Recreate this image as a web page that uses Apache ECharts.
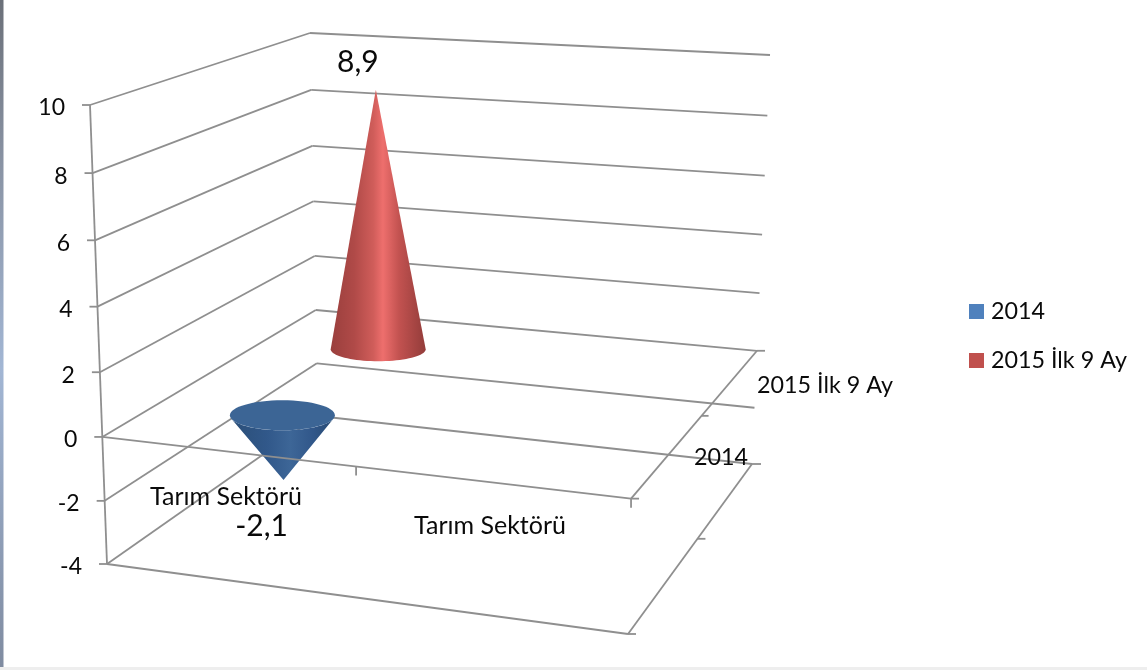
<!DOCTYPE html>
<html><head><meta charset="utf-8">
<style>html,body{margin:0;padding:0;background:#fff}#c{width:1147px;height:670px}</style>
<script src="https://cdn.jsdelivr.net/npm/echarts@6/dist/echarts.min.js"></script>
</head><body><div id="c"></div>
<script>
var categories = ['Tarım Sektörü'];
var seriesNames = ['2014', '2015 İlk 9 Ay'];
var values2014 = [-2.1];
var values2015 = [8.9];
var tickValues = [-4, -2, 0, 2, 4, 6, 8, 10];

var FONT = 'Lato';
var GRID = '#8f8f8f';
var TOP = {fl:[90,105], fr:[639,145], bl:[310,33], br:[770,55]};
var BOT = {fl:[107,564], fr:[628,634], bl:[318,416], br:[752,464]};
var PERSP = 1.045;

function mix(a,b,t){return [a[0]+(b[0]-a[0])*t, a[1]+(b[1]-a[1])*t];}
function project(api,u,v,val){
  var t=(api.coord([0,val])[1]-105)/459;
  var p=t*PERSP/(1+(PERSP-1)*t);
  function plane(C){return mix(mix(C.fl,C.fr,u),mix(C.bl,C.br,u),v);}
  return mix(plane(TOP),plane(BOT),p);
}
function seg(a,b){return {type:'line',shape:{x1:a[0],y1:a[1],x2:b[0],y2:b[1]},style:{stroke:GRID,lineWidth:1.8}};}
function txt(s,x,y,size,align){return {type:'text',style:{text:s,x:x,y:y,font:size+'px '+FONT,fill:'#0a0a0a',align:align||'center',verticalAlign:'middle'}};}

function renderBack(params,api){
  var c=[];
  tickValues.forEach(function(val){
    var fl=project(api,0,0,val),bl=project(api,0,1,val),br=project(api,1,1,val);
    c.push(seg(fl,bl),seg(bl,br),seg([fl[0]-8,fl[1]],fl));
  });
  c.push(seg(project(api,0,0,10),project(api,0,0,-4)));
  var fr=project(api,1,0,-4),brb=project(api,1,1,-4),flb=project(api,0,0,-4);
  c.push(seg(flb,fr),seg(fr,brb));
  var fr0=project(api,1,0,0),br0=project(api,1,1,0);
  c.push(seg(fr0,br0));
  return {type:'group',children:c};
}
function renderFront(params,api){
  var c=[];
  var fl0=project(api,0,0,0),fr0=project(api,1,0,0),br0=project(api,1,1,0);
  var frb=project(api,1,0,-4),brb=project(api,1,1,-4);
  c.push(seg(fl0,fr0));
  c.push(seg(fr0,[fr0[0],fr0[1]+9]),seg(fr0,[fr0[0]+8,fr0[1]]));
  c.push(seg(br0,[br0[0]+8,br0[1]]),seg(brb,[brb[0]+9,brb[1]]),seg(frb,[frb[0]+8,frb[1]]));
  var m=project(api,0.48,0,0);c.push(seg(m,[m[0],m[1]+9]));
  var d0=project(api,1,0.56,0),d1=project(api,1,0.56,-4);
  c.push(seg(d0,[d0[0]+7,d0[1]]),seg(d1,[d1[0]+8,d1[1]]));
  tickValues.forEach(function(val){
    var p=project(api,0,0,val);
    c.push(txt(String(val),p[0]-25,p[1]+3,23,'right'));
  });
  c.push(txt(categories[0],226,497,25));
  c.push(txt(categories[0],490,526,25));
  c.push(txt(seriesNames[1],825,385,23.3));
  c.push(txt(seriesNames[0],721,457,23.3));
  return {type:'group',children:c};
}
function lg(stops){return new echarts.graphic.LinearGradient(0,0,1,0,stops.map(function(s){return {offset:s[0],color:s[1]};}));}

function coneItem(opts){
  return function(params,api){
    var val=api.value(1);
    var z=project(api,0.25,opts.v,0);
    var a=project(api,0.25,opts.v,val);
    var cx=z[0], cy=z[1]-4;
    var ax=a[0], ay=cy+(a[1]-z[1])*0.99;
    var c=[];
    var label=String(val).replace('.',',');
    if(val>=0){
      var pts=[[ax,ay]];
      for(var i=0;i<=40;i++){var th=Math.PI*i/40;pts.push([cx+opts.rx*Math.cos(th),cy+opts.ry*Math.sin(th)]);}
      c.push({type:'polygon',shape:{points:pts},style:{fill:lg(opts.stops)}});
      c.push(txt(label,ax-18,ay-27,30));
    } else {
      var pts2=[[ax,ay]];
      for(var j=0;j<=40;j++){var t2=Math.PI*(0.08+0.84*j/40);pts2.push([cx-opts.rx*Math.cos(t2),cy+opts.ry*Math.sin(t2)]);}
      c.push({type:'polygon',shape:{points:pts2},style:{fill:lg(opts.stops)}});
      c.push({type:'ellipse',shape:{cx:cx,cy:cy,rx:opts.rx,ry:opts.ry},style:{fill:opts.top}});
      c.push(txt(label,ax-22,ay+46,30));
    }
    return {type:'group',children:c};
  };
}

var chart=echarts.init(document.getElementById('c'),null,{renderer:'canvas'});
chart.setOption({
  animation:false,
  backgroundColor:'#ffffff',
  graphic:[
    {type:'rect',left:0,top:0,z:100,shape:{width:3.5,height:670},style:{fill:new echarts.graphic.LinearGradient(0,0,0,1,[
      {offset:0,color:'#6b7079'},{offset:0.25,color:'#8a94a5'},{offset:0.55,color:'#a2b6d4'},{offset:1,color:'#7f8ba0'}])}},
    {type:'rect',left:0,top:667,z:100,shape:{width:1147,height:3},style:{fill:'#eeeeee'}}
  ],
  legend:{
    data:seriesNames,orient:'vertical',left:964,top:295,icon:'rect',itemWidth:15,itemHeight:15,itemGap:26,
    textStyle:{fontFamily:FONT,fontSize:23.3,color:'#0a0a0a',padding:[2,0,0,2]},selectedMode:false
  },
  grid:{left:90,top:105,width:540,height:459},
  xAxis:{type:'category',data:categories,show:false},
  yAxis:{type:'value',min:-4,max:10,interval:2,show:false},
  series:[
    {type:'custom',name:'walls',silent:true,z:1,clip:false,data:[[0,0]],renderItem:renderBack},
    {type:'custom',name:seriesNames[0],z:3,clip:false,itemStyle:{color:'#4F81BD'},
     data:values2014.map(function(v,i){return [i,v];}),
     renderItem:coneItem({v:0.25,rx:52.5,ry:15,top:'#3c6595',stops:[[0,'#2b4f78'],[0.35,'#31588a'],[0.58,'#3d6697'],[0.8,'#31578a'],[1,'#284a72']]})},
    {type:'custom',name:seriesNames[1],z:3,clip:false,itemStyle:{color:'#C0504D'},
     data:values2015.map(function(v,i){return [i,v];}),
     renderItem:coneItem({v:0.75,rx:47.5,ry:12,stops:[[0,'#9a3f3d'],[0.25,'#b04a48'],[0.45,'#d05d5a'],[0.55,'#ee6f6d'],[0.72,'#c25250'],[1,'#933c3a']]})},
    {type:'custom',name:'front',silent:true,z:4,clip:false,data:[[0,0]],renderItem:renderFront}
  ]
});
</script></body></html>
